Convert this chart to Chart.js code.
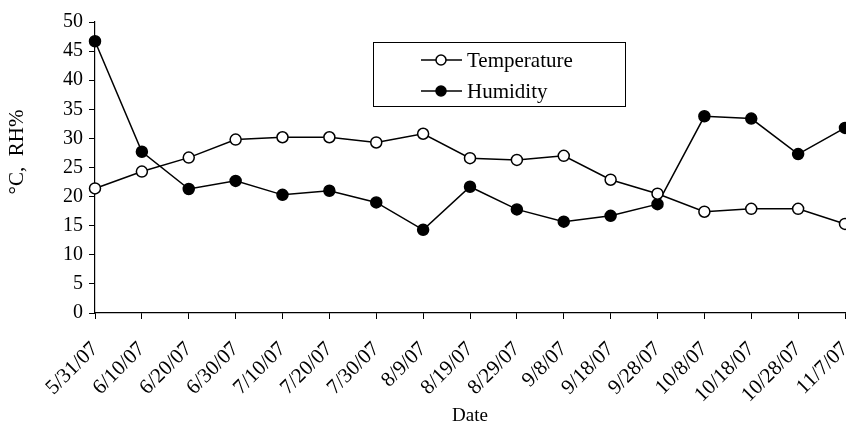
<!DOCTYPE html>
<html><head><meta charset="utf-8">
<script src="https://cdn.jsdelivr.net/npm/chart.js@4.4.0/dist/chart.umd.min.js"></script>
<style>html,body{margin:0;padding:0;background:#fff;overflow:hidden}#wrap{width:846px;height:427px;overflow:hidden;position:relative}canvas{display:block}</style>
</head><body><div id="wrap"><canvas id="c" width="852" height="427"></canvas></div>
<script>
const dates = ['5/31/07','6/10/07','6/20/07','6/30/07','7/10/07','7/20/07','7/30/07','8/9/07','8/19/07','8/29/07','9/8/07','9/18/07','9/28/07','10/8/07','10/18/07','10/28/07','11/7/07'];
const temperature = [21.4,24.3,26.7,29.8,30.2,30.2,29.3,30.8,26.6,26.3,27.0,22.9,20.5,17.4,17.9,17.9,15.3];
const humidity = [46.7,27.7,21.3,22.7,20.3,21.0,19.0,14.3,21.7,17.8,15.7,16.7,18.7,33.8,33.4,27.3,31.8];
const yTicks = [0,5,10,15,20,25,30,35,40,45,50];
const yTitle = '°C,  RH%';
const xTitle = 'Date';

const FONT = '"Liberation Serif", "Times New Roman", serif';

const extras = {
  id: 'extras',
  afterDraw(chart) {
    const ctx = chart.ctx;
    ctx.save();
    // y-axis title
    ctx.save();
    ctx.translate(17, 152);
    ctx.rotate(-Math.PI / 2);
    ctx.fillStyle = '#000';
    ctx.font = '21px ' + FONT;
    ctx.textAlign = 'center';
    ctx.textBaseline = 'middle';
    ctx.fillText(yTitle, 0, 0);
    ctx.restore();
    // legend box
    const x0 = 373, y0 = 42, w = 252, h = 64;
    ctx.fillStyle = '#fff';
    ctx.fillRect(x0, y0, w, h);
    ctx.strokeStyle = '#000';
    ctx.lineWidth = 1;
    ctx.strokeRect(x0 + 0.5, y0 + 0.5, w, h);
    chart.data.datasets.forEach((ds, i) => {
      const cy = y0 + 18 + i * 31;
      ctx.beginPath();
      ctx.moveTo(x0 + 48, cy); ctx.lineTo(x0 + 89, cy);
      ctx.lineWidth = 1.5; ctx.strokeStyle = '#000'; ctx.stroke();
      ctx.beginPath();
      ctx.arc(x0 + 68, cy, 5, 0, Math.PI * 2);
      ctx.fillStyle = ds.pointBackgroundColor; ctx.fill();
      ctx.lineWidth = 1.5; ctx.stroke();
      ctx.fillStyle = '#000';
      ctx.font = '21px ' + FONT;
      ctx.textAlign = 'left';
      ctx.textBaseline = 'middle';
      ctx.fillText(ds.label, x0 + 94, cy + 1);
    });
    ctx.restore();
  }
};

new Chart(document.getElementById('c'), {
  type: 'line',
  data: {
    labels: dates,
    datasets: [
      { label: 'Temperature', data: temperature, borderColor: '#000', borderWidth: 1.5,
        pointBackgroundColor: '#fff', pointBorderColor: '#000', pointBorderWidth: 1.5, pointRadius: 5.5, tension: 0 },
      { label: 'Humidity', data: humidity, borderColor: '#000', borderWidth: 1.5,
        pointBackgroundColor: '#000', pointBorderColor: '#000', pointBorderWidth: 1.5, pointRadius: 5.5, tension: 0 }
    ]
  },
  options: {
    responsive: false,
    animation: false,
    devicePixelRatio: 1,
    layout: { padding: { top: 22, right: 0, left: 0, bottom: 0 } },
    plugins: { legend: { display: false }, tooltip: { enabled: false } },
    scales: {
      x: {
        offset: false,
        grid: { display: true, drawOnChartArea: false, tickLength: 6, color: '#000', offset: false },
        border: { color: '#000', width: 1.2 },
        ticks: { color: '#000', font: { family: FONT, size: 21 }, minRotation: 45, maxRotation: 45, autoSkip: false, padding: 18 },
        title: { display: true, text: xTitle, color: '#000', font: { family: FONT, size: 19 }, padding: { top: 0, bottom: 0 } },
        afterFit(scale) { scale.height = 114; scale.paddingLeft = 0; scale.paddingRight = 0; }
      },
      y: {
        min: 0, max: 50,
        afterBuildTicks(scale) { scale.ticks = yTicks.map(v => ({ value: v })); },
        grid: { display: true, drawOnChartArea: false, tickLength: 6, color: '#000' },
        border: { color: '#000', width: 1.2 },
        ticks: { color: '#000', font: { family: FONT, size: 20 }, padding: 6 },
        afterFit(scale) { scale.width = 95; scale.paddingTop = 0; scale.paddingBottom = 0; }
      }
    }
  },
  plugins: [extras]
});
</script></body></html>
